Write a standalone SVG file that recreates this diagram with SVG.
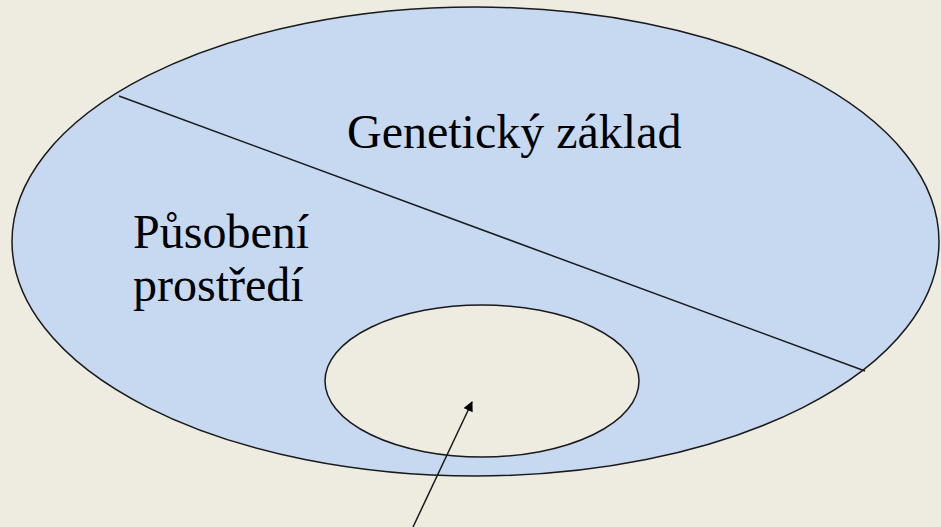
<svg xmlns="http://www.w3.org/2000/svg" width="941" height="527" viewBox="0 0 941 527">
<style>
.shape{stroke:#1a1a1a;stroke-width:1.5}
.lbl{font-family:"Liberation Serif","Times New Roman",serif;font-size:48px;fill:#000}
.conn{stroke:#1a1a1a;stroke-width:1.5;fill:none}
</style>
<defs>
<marker id="arr" viewBox="0 0 10 10" refX="9" refY="5" markerWidth="11" markerHeight="10" markerUnits="userSpaceOnUse" orient="auto"><path d="M0,0 L10,5 L0,10 z" fill="#000"/></marker>
</defs>
<rect width="941" height="527" fill="#EEECE1"/>
<g id="outer">
<ellipse class="shape" cx="475.5" cy="241.5" rx="463.5" ry="234.5" fill="#C6D9F1"/>
</g>
<g id="inner">
<ellipse class="shape" cx="482" cy="381" rx="157" ry="76" fill="#EEECE1"/>
</g>
<g id="labels">
<text class="lbl" x="347" y="148">Genetický základ</text>
<text class="lbl" x="133" y="248">Působení</text>
<text class="lbl" x="133" y="301">prostředí</text>
</g>
<g id="connectors">
<line class="conn" x1="119" y1="96" x2="865" y2="371"/>
<line class="conn" x1="413" y1="527" x2="472" y2="402" marker-end="url(#arr)"/>
</g>
</svg>
